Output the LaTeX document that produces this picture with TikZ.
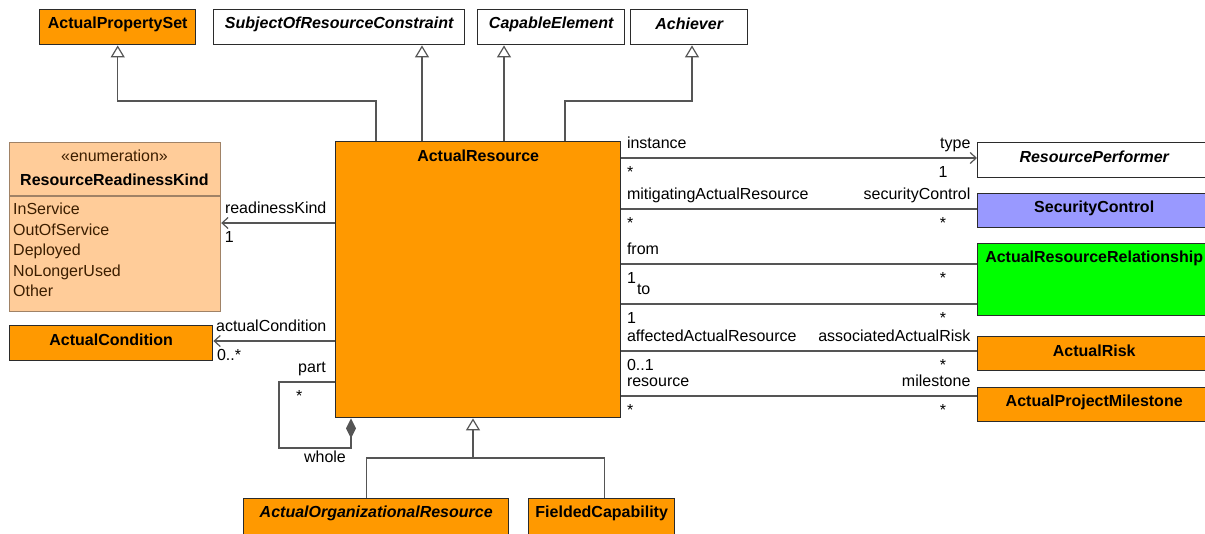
\documentclass[tikz,border=0pt]{standalone}
\usepackage{fontspec}
\setmainfont{Liberation Sans}
\usetikzlibrary{arrows.meta}

\definecolor{umlorange}{HTML}{FF9900}
\definecolor{enumfill}{HTML}{FFCC99}
\definecolor{enumedge}{HTML}{A08266}
\definecolor{enumtext}{HTML}{3C1E00}
\definecolor{sctrl}{HTML}{9999FF}
\definecolor{relgreen}{HTML}{00FF00}
\definecolor{boxline}{HTML}{2B2B2B}
\definecolor{connline}{HTML}{555555}

\begin{document}
\begin{tikzpicture}[x=1pt, y=-1pt,
  every node/.style={font=\fontsize{16}{19}\selectfont, inner sep=0pt},
  clsname/.style={anchor=center, yshift=-15pt, font=\fontsize{16}{19}\selectfont\bfseries},
  cls/.style={draw=boxline, line width=1.4pt, fill=umlorange, anchor=north west,
              minimum height=35pt, label={[clsname]north:#1}},
  conn/.style={draw=connline, line width=1.2pt},
  nav/.style={conn, -{Straight Barb[length=6pt, width=11pt]}},
  gen/.style={conn, -{Triangle[open, length=12pt, width=14pt, fill=white]}},
  rl/.style={anchor=base west, xshift=5pt, yshift=10pt},
  ml/.style={anchor=base west, xshift=5pt, yshift=-19pt},
  rr/.style={anchor=base east, xshift=-6pt, yshift=10pt},
  mr/.style={anchor=base, xshift=-34pt, yshift=-19pt},
  ll/.style={anchor=base east, xshift=-8pt, yshift=10pt},
  lm/.style={anchor=base west, xshift=3pt, yshift=-19pt}
]
  \useasboundingbox (0,0) rectangle (1205,533);

  % generalizations
  \node[cls=ActualPropertySet, minimum width=156pt] (aps) at (39,9) {};
  \node[cls={\itshape SubjectOfResourceConstraint}, fill=white, minimum width=251pt] (sorc) at (213,9) {};
  \node[cls={\itshape CapableElement}, fill=white, minimum width=147pt] (ce) at (477,9) {};
  \node[cls={\itshape Achiever}, fill=white, minimum width=117pt] (ach) at (630,9) {};

  \node[cls=ActualResource, minimum width=285pt, minimum height=276pt] (ar) at (335,141) {};

  % enumeration
  \node[draw=enumedge, line width=1.2pt, fill=enumfill, anchor=north west,
        minimum width=211pt, minimum height=169pt] (rrk) at (9,142) {};
  \node[anchor=base, text=enumtext] (stereo) at (114.5,161) {«enumeration»};
  \node[anchor=base, font=\fontsize{16}{19}\selectfont\bfseries] (rrkname) at (114.5,185.5) {ResourceReadinessKind};
  \draw[draw=enumedge, line width=1.2pt] (rrk.west |- 0,196) -- (rrk.east |- 0,196);
  \foreach \lit [count=\k] in {InService,OutOfService,Deployed,NoLongerUsed,Other}
    \node[anchor=base west, text=enumtext] (lit\k) at (13,194+20.5*\k) {\lit};

  \node[cls=ActualCondition, minimum width=203pt] (ac) at (9,325) {};

  % right hand classes
  \node[cls={\itshape ResourcePerformer}, fill=white, minimum width=233pt] (rp) at (977,142) {};
  \node[cls=SecurityControl, fill=sctrl, minimum width=233pt, minimum height=34pt] (sc) at (977,193) {};
  \node[cls=ActualResourceRelationship, fill=relgreen, minimum width=233pt, minimum height=72pt] (arr) at (977,243) {};
  \node[cls=ActualRisk, minimum width=233pt, minimum height=34pt] (risk) at (977,336) {};
  \node[cls=ActualProjectMilestone, minimum width=233pt, minimum height=34pt] (apm) at (977,387) {};

  % specializations
  \node[cls={\itshape ActualOrganizationalResource}, minimum width=265pt, minimum height=40pt] (aor) at (243,498) {};
  \node[cls=FieldedCapability, minimum width=146pt, minimum height=40pt] (fc) at (528,498) {};

  \draw[gen] ([xshift=41pt]ar.north west) |- (aps.south |- 0,101) -- (aps.south);
  \draw[gen] ([xshift=87pt]ar.north west) -- (sorc.south -| 422,0);
  \draw[gen] ([xshift=169pt]ar.north west) -- (ce.south -| 504,0);
  \draw[gen] ([xshift=230pt]ar.north west) |- (692,101) -- (ach.south -| 692,0);

  \coordinate (gj) at (473,458);
  \draw[gen] ([xshift=-10pt]aor.north) |- (gj) -- (ar.south -| gj);
  \draw[conn] ([xshift=3pt]fc.north) |- (gj);

  % associations, left
  \draw[nav] (ar.west |- 0,223) -- (rrk.east |- 0,223)
    node[pos=0, ll] {readinessKind} node[pos=1, lm] {1};
  \draw[nav] (ar.west |- 0,341) -- (ac.east |- 0,341)
    node[pos=0, ll] {actualCondition} node[pos=1, lm] {0..*};

  \draw[conn, {Diamond[length=20pt, width=10pt]}-] ([xshift=16pt]ar.south west)
    |- (279,448) |- (ar.west |- 0,382);
  \node[anchor=base east] (partlbl) at (326,372) {part};
  \node[anchor=base west] (partmul) at (296,401) {*};
  \node[anchor=base] (wholelbl) at (325,462) {whole};

  % associations, right
  \draw[nav] (ar.east |- 0,158) -- (rp.west |- 0,158)
    node[pos=0, rl] {instance} node[pos=0, ml] {*}
    node[pos=1, rr] {type} node[pos=1, mr] {1};
  \draw[conn] (ar.east |- 0,209) -- (sc.west |- 0,209)
    node[pos=0, rl] {mitigatingActualResource} node[pos=0, ml] {*}
    node[pos=1, rr] {securityControl} node[pos=1, mr] {*};
  \draw[conn] (ar.east |- 0,264) -- (arr.west |- 0,264)
    node[pos=0, rl] {from} node[pos=0, ml] {1} node[pos=1, mr] {*};
  \draw[conn] (ar.east |- 0,304) -- (arr.west |- 0,304)
    node[pos=0, rl, xshift=10pt] {to} node[pos=0, ml] {1} node[pos=1, mr] {*};
  \draw[conn] (ar.east |- 0,351) -- (risk.west |- 0,351)
    node[pos=0, rl] {affectedActualResource} node[pos=0, ml] {0..1}
    node[pos=1, rr] {associatedActualRisk} node[pos=1, mr] {*};
  \draw[conn] (ar.east |- 0,396) -- (apm.west |- 0,396)
    node[pos=0, rl] {resource} node[pos=0, ml] {*}
    node[pos=1, rr] {milestone} node[pos=1, mr] {*};
\end{tikzpicture}
\end{document}
